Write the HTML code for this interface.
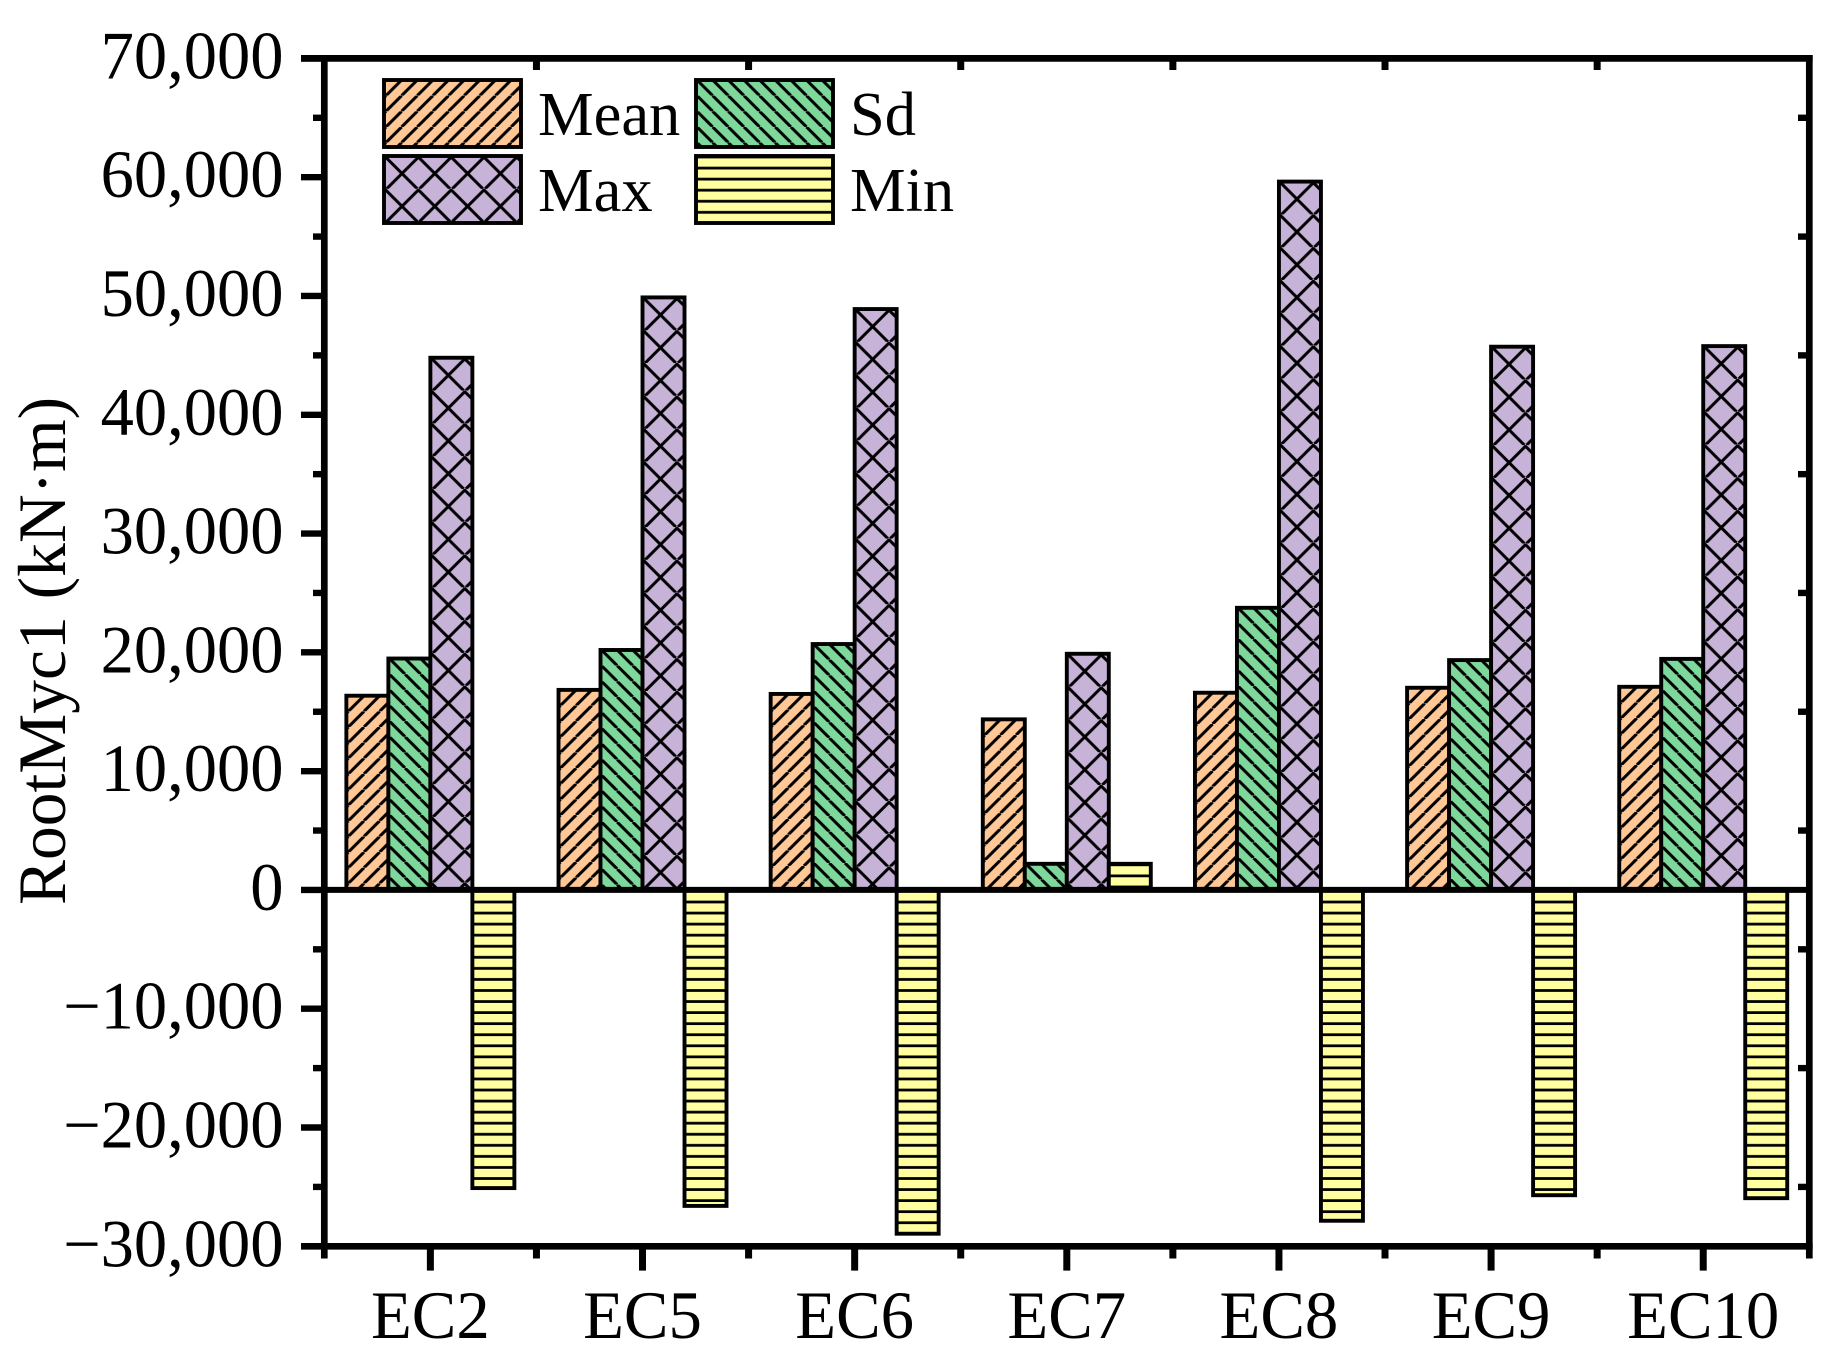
<!DOCTYPE html>
<html>
<head>
<meta charset="utf-8">
<title>RootMyc1 chart</title>
<style>
html,body{margin:0;padding:0;background:#fff;}
svg{display:block;}
text{font-family:"Liberation Serif","Times New Roman",serif;fill:#000;}
</style>
</head>
<body>
<svg id="chart" xmlns="http://www.w3.org/2000/svg" width="1833" height="1367" viewBox="0 0 1833 1367">
<defs>
<pattern id="hatch-mean" patternUnits="userSpaceOnUse" width="15.64" height="15.64">
<rect width="15.64" height="15.64" fill="#FFC896"/>
<path d="M2 0L-13.64 15.64M17.64 0L2 15.64M33.28 0L17.64 15.64" stroke="#000" stroke-width="3" fill="none"/>
</pattern>
<pattern id="hatch-sd" patternUnits="userSpaceOnUse" width="15.64" height="15.64">
<rect width="15.64" height="15.64" fill="#7FD89B"/>
<path d="M1 0L16.64 15.64M-14.64 0L1 15.64M16.64 0L32.28 15.64" stroke="#000" stroke-width="3" fill="none"/>
</pattern>
<pattern id="hatch-max" patternUnits="userSpaceOnUse" width="32.8" height="32.8">
<rect width="32.8" height="32.8" fill="#C7B2D8"/>
<path d="M2.7 0L-30.1 32.8M35.5 0L2.7 32.8M68.3 0L35.5 32.8M.5 0L33.3 32.8M-32.3 0L.5 32.8M33.3 0L66.1 32.8" stroke="#000" stroke-width="3" fill="none"/>
</pattern>
<pattern id="hatch-min" patternUnits="userSpaceOnUse" width="11.06" height="11.06">
<rect width="11.06" height="11.06" fill="#FFFFA0"/>
<path d="M0 1H11.06M0 12.06H11.06" stroke="#000" stroke-width="2.7" fill="none"/>
</pattern>
</defs>
<g id="bars"></g>
<g id="axes"></g>
<g id="legend"></g>
</svg>
<script>
const categories = ["EC2","EC5","EC6","EC7","EC8","EC9","EC10"];
const meanValues = [16350,16840,16500,14360,16600,17020,17100];
const sdValues = [19480,20200,20700,2200,23750,19350,19450];
const maxValues = [44800,49880,48900,19880,59630,45730,45780];
const minValues = [-25100,-26600,-28940,2200,-27850,-25700,-25950];
const yTickValues = [70000,60000,50000,40000,30000,20000,10000,0,-10000,-20000,-30000];
const yTickLabels = ["70,000","60,000","50,000","40,000","30,000","20,000","10,000","0","\u221210,000","\u221220,000","\u221230,000"];
const seriesNames = ["Mean","Sd","Max","Min"];

const NS = "http://www.w3.org/2000/svg";
const yTop = 58.4, yBottom = 1246.3, yMaxV = 70000, yMinV = -30000;
const xLeft = 324.3, xRight = 1809.3;
const barWidth = 42;
function yScale(v){ return yTop + (yMaxV - v) * (yBottom - yTop) / (yMaxV - yMinV); }
function xBand(){ return (xRight - xLeft) / categories.length; }
function xScale(i){ return xLeft + xBand() * (i + 0.5); }
function mk(tag, attrs, parent){
  const el = document.createElementNS(NS, tag);
  for (const k in attrs) el.setAttribute(k, attrs[k]);
  parent.appendChild(el);
  return el;
}
const barsG = document.getElementById("bars");
const axesG = document.getElementById("axes");
const legendG = document.getElementById("legend");
const seriesValues = [meanValues, sdValues, maxValues, minValues];
const seriesFills = ["url(#hatch-mean)","url(#hatch-sd)","url(#hatch-max)","url(#hatch-min)"];

seriesValues.forEach(function(vals, s){
  vals.forEach(function(v, i){
    const left = xScale(i) + (s - 2) * barWidth;
    const top = Math.min(yScale(v), yScale(0));
    const h = Math.abs(yScale(v) - yScale(0));
    const r = mk("rect", {x:0, y:0, width:barWidth, height:h, transform:"translate("+left+","+top+")", fill:seriesFills[s], stroke:"#000", "stroke-width":3.9}, barsG);
    
    
    r.setAttribute('data-series', seriesNames[s]);
    r.setAttribute('data-category', categories[i]);
  });
});

function line(x1,y1,x2,y2,w,name){
  const l = mk("line", {x1:x1,y1:y1,x2:x2,y2:y2,stroke:"#000","stroke-width":w}, axesG);
  
  
  return l;
}
const axisW = 6.7;
line(301, yTop, xRight+3.35, yTop, axisW, 'top-axis');
line(301, yBottom, xRight+3.35, yBottom, axisW, 'x-axis');
line(xLeft, yTop-3.35, xLeft, 1258.5, axisW, 'y-axis');
line(xRight, yTop-3.35, xRight, 1258.5, axisW, 'right-axis');
line(xLeft, yScale(0), xRight, yScale(0), 6, 'zero-line');

yTickValues.forEach(function(v, i){
  const y = yScale(v);
  line(301, y, xLeft, y, 6.4, 'y-major-tick');
  const t = mk("text", {transform:"translate(283.5,"+(y+20)+") scale(1,1.015)", "text-anchor":"end", "font-size":66.5}, axesG);
  t.textContent = yTickLabels[i];
  
  
  if (i < yTickValues.length - 1) {
    const ym = yScale((v + yTickValues[i+1]) / 2);
    line(313, ym, xLeft, ym, 6.4, 'y-minor-tick');
    line(1798, ym, xRight, ym, 6.4, 'right-minor-tick');
  }
});
categories.forEach(function(c, i){
  const x = xScale(i);
  line(x, yBottom, x, 1270.6, 7, 'x-major-tick');
  const t = mk("text", {transform:"translate("+x+",1338) scale(1,1.015)", "text-anchor":"middle", "font-size":66.8}, axesG);
  t.textContent = c;
  
  
  if (i < categories.length - 1) {
    const xm = x + xBand() / 2;
    line(xm, yBottom, xm, 1258.5, 7, 'x-minor-tick');
    line(xm, yTop, xm, 70, 7, 'top-minor-tick');
  }
});
const yTitle = mk("text", {transform:"translate(65,905) rotate(-90)", "font-size":67.5}, axesG);
yTitle.textContent = "RootMyc1 (kN\u00B7m)";



const legendCols = [384, 696];
const legendRows = [80, 156];
const legendTextX = [538, 850];
const legendBase = [135, 211];
seriesNames.forEach(function(name, s){
  const col = s % 2, row = Math.floor(s / 2);
  const g = mk("g", {}, legendG);
  
  
  const r = mk("rect", {x:0, y:0, width:137, height:67, transform:"translate("+legendCols[col]+","+legendRows[row]+")", fill:seriesFills[s], stroke:"#000", "stroke-width":3.9}, g);
  
  
  const t = mk("text", {x:legendTextX[col], y:legendBase[row], "font-size":62.5}, g);
  t.textContent = name;
  
  
});
</script>
</body>
</html>
